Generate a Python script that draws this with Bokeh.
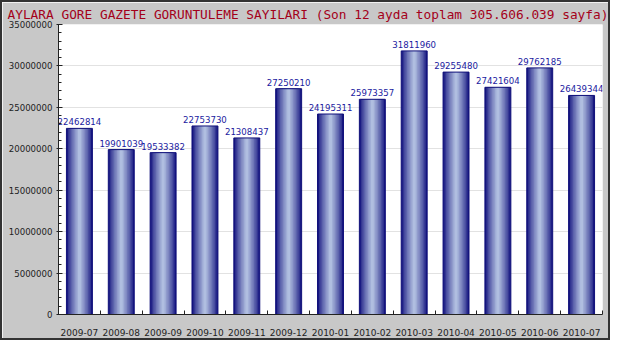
from bokeh.plotting import figure
from bokeh.models import (FixedTicker, SingleIntervalTicker, NumeralTickFormatter,
                          Range1d, ColumnDataSource)
from bokeh.core.properties import value
from bokeh.embed import file_html
from bokeh.resources import INLINE

# ---- data ----
months = ["2009-07", "2009-08", "2009-09", "2009-10", "2009-11", "2009-12",
          "2010-01", "2010-02", "2010-03", "2010-04", "2010-05", "2010-06", "2010-07"]
views = [22462814, 19901039, 19533382, 22753730, 21308437, 27250210,
         24195311, 25973357, 31811960, 29255480, 27421604, 29762185, 26439344]
title_text = "AYLARA GORE GAZETE GORUNTULEME SAYILARI (Son 12 ayda toplam 305.606.039 sayfa)"

xs = list(range(len(months)))
W, H = 610, 340
ML, MR, MT, MB = 56, 10, 22, 28
Y_MAX = 35000000

p = figure(width=W, height=H, output_backend="svg", toolbar_location=None,
           x_range=Range1d(-0.5, len(months) - 0.5), y_range=Range1d(0, Y_MAX),
           min_border_left=ML, min_border_right=MR, min_border_top=MT, min_border_bottom=MB)
p.styles = {"border": "2px solid #333333"}

p.background_fill_color = "white"
p.border_fill_color = "#c8c8c8"
p.outline_line_color = None

p.title.text = title_text
p.title.align = "left"
p.title.offset = 5 - ML
p.title.text_font = "DejaVu Sans Mono"
p.title.text_font_size = "12.8px"
p.title.text_font_style = "normal"
p.title.text_color = "#a4001a"
p.title.standoff = 5

# grid
p.xgrid.grid_line_color = None
p.ygrid.grid_line_color = "#e2e2e2"
p.ygrid.grid_line_width = 1

# y axis
p.yaxis.ticker = SingleIntervalTicker(interval=5000000, num_minor_ticks=5)
p.yaxis.formatter = NumeralTickFormatter(format="0")
p.yaxis.major_label_text_font = "DejaVu Sans"
p.yaxis.major_label_text_font_size = "8.6px"
p.yaxis.major_label_text_color = "#222222"
p.yaxis.axis_line_color = "#222222"
p.yaxis.major_tick_line_color = "#222222"
p.yaxis.minor_tick_line_color = "#222222"
p.yaxis.major_tick_in = 4
p.yaxis.major_tick_out = 2
p.yaxis.minor_tick_in = 3
p.yaxis.minor_tick_out = 0
p.yaxis.major_label_standoff = 4

# x axis: labels at centers, ticks at category boundaries
p.xaxis.ticker = FixedTicker(ticks=xs, minor_ticks=[i - 0.5 for i in range(len(months) + 1)])
p.xaxis.major_label_overrides = {i: m for i, m in enumerate(months)}
p.xaxis.major_label_text_font = "DejaVu Sans"
p.xaxis.major_label_text_font_size = "9px"
p.xaxis.major_label_text_color = "#222222"
p.xaxis.axis_line_color = "#222222"
p.xaxis.major_tick_line_color = None
p.xaxis.minor_tick_line_color = "#222222"
p.xaxis.minor_tick_in = 4
p.xaxis.minor_tick_out = 0
p.xaxis.major_label_standoff = 8

# gradient bars built from nested bars (dark edges -> light centre)
bar_w = 0.62
dark = (22, 22, 128)
light = (176, 190, 224)
K = 9
src = ColumnDataSource(dict(x=xs, top=views, lab=[str(v) for v in views]))
for k in range(K):
    t = (k / (K - 1)) ** 0.8
    c = tuple(int(round(dark[j] + (light[j] - dark[j]) * t)) for j in range(3))
    col = "#%02x%02x%02x" % c
    p.vbar(x="x", top="top", bottom=0, width=bar_w * (1 - k / K), source=src,
           fill_color=col, line_color=None)
p.vbar(x="x", top="top", bottom=0, width=bar_w, source=src,
       fill_color=None, line_color="#10107a", line_width=1)

p.text(x="x", y="top", text="lab", source=src, text_align="center",
       text_baseline="bottom", y_offset=-3, text_font=value("DejaVu Sans"),
       text_font_size="8.6px", text_color="#1a1aa0")

open("out.html", "w").write(file_html(p, INLINE))
